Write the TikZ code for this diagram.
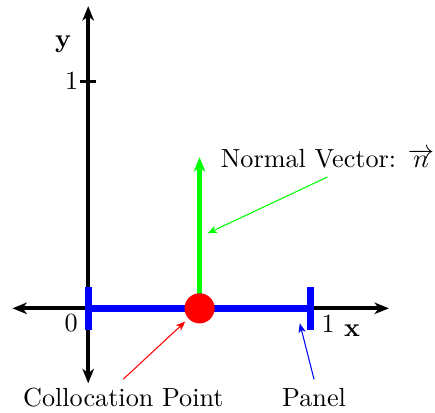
\documentclass[tikz,border=0pt]{standalone}
\usepackage{xcolor}
\usepackage{tikz}
\usetikzlibrary{arrows.meta}
\definecolor{panelblue}{HTML}{0000FF}
\definecolor{normalgreen}{HTML}{00FF00}
\definecolor{collocred}{HTML}{FF0000}

\begin{document}
\begin{tikzpicture}[x=2.99cm,y=3.05cm,
        axis/.style={line width=1.6pt,{Stealth[length=5.5pt,width=4.4pt,inset=1.6pt]}-{Stealth[length=5.5pt,width=4.4pt,inset=1.6pt]}},
        pointer/.style={-{Stealth[length=3.6pt,width=2.8pt,inset=1pt]}},
        panelline/.style={panelblue,line width=2.7pt}]
        \useasboundingbox (-0.396,-0.458) rectangle (1.557,1.357);

        % axes
        \draw[axis] (-0.34,0) -- (1.35,0);
        \draw[axis] (0,-0.33) -- (0,1.33);
        \draw[line width=1.2pt] (-0.035,1) -- (0.035,1);
        \node (yone) at (-0.074,1) {1};
        \node (xzero) at (-0.077,-0.066) {0};
        \node (xone) at (1.077,-0.066) {1};
        \node[font=\bfseries] (ylab) at (-0.113,1.16) {y};
        \node[font=\bfseries] (xlab) at (1.185,-0.10) {x};

        % panel
        \draw[panelline] (0,0) -- (1,0);
        \foreach \x in {0,1}{
                \draw[panelline] (\x,-0.095) -- (\x,0.095);
            }

        % normal vector and collocation point
        \draw[normalgreen,line width=1.6pt,-{Stealth[length=5.5pt,width=4.4pt,inset=1.6pt]}] (0.5,0) -- (0.5,0.665);
        \node[circle,fill=collocred,minimum size=11.5pt,inner sep=0pt] (cp) at (0.5,0) {};

        % labels
        \node (normlab) at (1.074,0.66) {Normal Vector: $\overrightarrow{n}$};
        \coordinate (normtip) at (0.536,0.33);
        \draw[normalgreen,pointer] (normlab.south) -- (normtip);

        \node (cplab) at (0.158,-0.394) {Collocation Point};
        \draw[collocred,pointer,shorten >=1.5pt] (cplab.north) -- (cp);

        \node (panellab) at (1.014,-0.394) {Panel};
        \coordinate (paneltip) at (0.95,-0.066);
        \draw[panelblue,pointer] (panellab.north) -- (paneltip);
    \end{tikzpicture}
\end{document}
